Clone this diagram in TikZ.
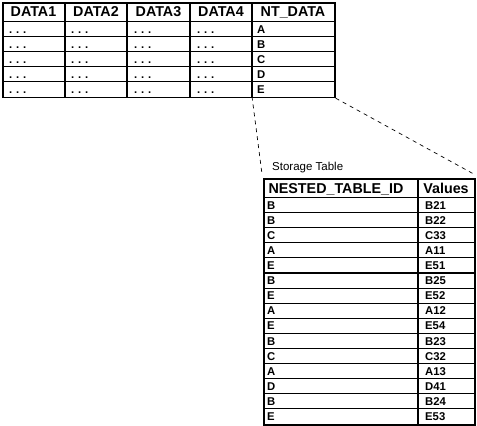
\documentclass[tikz,border=0pt]{standalone}
\usepackage{fontspec}
\setmainfont{Liberation Sans}
\usetikzlibrary{positioning, calc}

\begin{document}
\begin{tikzpicture}[x=1pt, y=-1pt,
    tablebox/.style={draw, line width=1.7pt, inner sep=0pt, anchor=north west},
    rule/.style={line width=1.1pt},
    head/.style={font=\fontsize{14.3}{14}\selectfont\bfseries, inner sep=0pt, anchor=base},
    cell/.style={font=\fontsize{11.3}{11}\selectfont\bfseries, inner sep=0pt, anchor=base west},
    link/.style={line width=0.7pt, dash pattern=on 4pt off 4pt},
]
    \useasboundingbox (0,0) rectangle (477,426);

    % main table
    \node[tablebox, minimum width=332pt, minimum height=94.5pt] (main) at (2,2) {};
    \foreach \x in {65,127,190,252}
        \draw[rule] (\x,2) -- (\x,96.5);
    \foreach \y in {21.5,36.5,51.5,66.5,81.5}
        \draw[rule] (2,\y) -- (334,\y);
    \foreach \l/\r/\t [count=\i] in {2/65/DATA1, 65/127/DATA2, 127/190/DATA3, 190/252/DATA4, 252/334/NT\_DATA}
        \node[head] (h\i) at ({(\l+\r)/2},16.5) {\t};
    \foreach \v [count=\i] in {A,B,C,D,E} {
        \foreach \x [count=\j] in {9,71,134,197}
            \node[cell] (d\i\j) at (\x,{18+15*\i}) {.\,\,.\,\,.};
        \node[cell] (nt\i) at (257,{18+15*\i}) {\v};
    }
    \coordinate (ntleft) at (252,96.5);
    \coordinate (ntright) at (main.south east);

    % storage table
    \node[font=\fontsize{11.5}{12}\selectfont, inner sep=0pt, anchor=base west] (label) at (272,170.5) {Storage Table};
    \node[tablebox, minimum width=211pt, minimum height=246pt] (store) at (263,178) {};
    \draw[rule] (418,178) -- (418,424);
    \foreach \k in {0,...,14}
        \draw[rule] (263,{197.5+15.1*\k}) -- (474,{197.5+15.1*\k});
    \node[head] (sid) at (336,193) {NESTED\_TABLE\_ID};
    \node[head] (sval) at (446,193) {Values};
    \foreach \n/\v [count=\i] in {B/B21, B/B22, C/C33, A/A11, E/E51, B/B25, E/E52, A/A12,
                                  E/E54, B/B23, C/C32, A/A13, D/D41, B/B24, E/E53} {
        \node[cell] (id\i) at (267,{194+15.1*\i}) {\n};
        \node[cell] (val\i) at (425,{194+15.1*\i}) {\v};
    }

    % dashed links to the storage table
    \draw[link] (ntleft) -- ($(store.north west)+(-1,-4)$);
    \draw[link] (ntright) -- ($(store.north east)+(-2,-4)$);
\end{tikzpicture}
\end{document}
